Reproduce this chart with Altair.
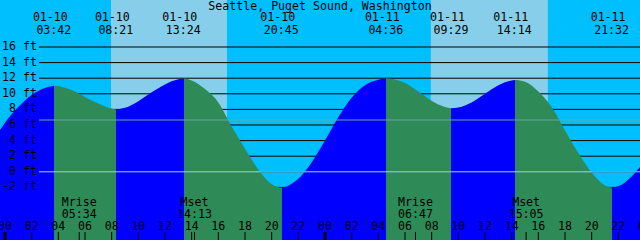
import altair as alt
import pandas as pd

TITLE = "Seattle, Puget Sound, Washington"

# Tide extremes
ext_dates = ["01-10", "01-10", "01-10", "01-10", "01-11", "01-11", "01-11", "01-11"]
ext_times = ["03:42", "08:21", "13:24", "20:45", "04:36", "09:29", "14:14", "21:32"]
ext_heights = [11.04, 8.0, 11.95, -2.05, 11.95, 8.15, 11.77, -2.0]

# Curve samples (hours after 01-10 00:00, height in ft)
sample_hours = [-0.375, 0, 1, 2, 3, 4, 5, 6, 7, 8, 9, 10, 11, 12, 13, 14, 15, 16,
                17, 18, 19, 20, 21, 22, 23, 24, 25, 26, 27, 28, 29, 30, 31, 32, 33,
                34, 35, 36, 37, 38, 39, 40, 41, 42, 43, 44, 45, 46, 47, 47.625]
sample_heights = [5.35, 6.3, 8.3, 9.85, 10.75, 10.98, 10.5, 9.6, 8.75, 8.1, 8.2,
                  9.05, 10.2, 11.2, 11.85, 11.7, 10.6, 8.9, 5.8, 2.95, 0.3, -1.6,
                  -1.95, -0.9, 1.2, 4.0, 7.0, 9.5, 11.1, 11.8, 11.9, 11.4, 10.3,
                  9.1, 8.3, 8.25, 8.9, 10.0, 11.1, 11.72, 11.55, 10.3, 8.3, 5.3,
                  2.4, -0.1, -1.75, -1.85, -0.6, 0.6]

# Sun (day bands)
sun_rise = ["07:57", "07:56"]
sun_set = ["16:39", "16:43"]
sun_day = [0, 1]

# Moon events
moon_kind = ["Mrise", "Mset", "Mrise", "Mset"]
moon_time = ["05:34", "14:13", "06:47", "15:05"]
moon_day = [0, 0, 1, 1]

# Depth grid (ft)
depths = [-2, 0, 2, 4, 6, 8, 10, 12, 14, 16]
msl = 6.64

# Hour ticks
tick_hours = list(range(0, 50, 2))

NIGHT = "#00BFFF"
DAY = "#87CEEB"
FLOOD = "#0000FF"
EBB = "#2E8B57"
FONT = "DejaVu Sans Mono"
FS = 11.6

W, H = 640, 240
X0, X1 = -0.375, 47.625
Y0, Y1 = -8.744, 22.026


def to_h(t, day=0):
    hh, mm = t.split(":")
    return 24 * day + int(hh) + int(mm) / 60.0


ext_day = [0 if d == "01-10" else 1 for d in ext_dates]
ext_hours = [to_h(t, d) for t, d in zip(ext_times, ext_day)]

curve = pd.DataFrame({"h": sample_hours + ext_hours, "ft": sample_heights + ext_heights})
curve = curve.sort_values("h").reset_index(drop=True)
curve["base"] = Y0

# gradient stops: rising = flood, falling = ebb
bounds = [X0] + ext_hours + [X1]
bvals = [sample_heights[0]] + ext_heights + [sample_heights[-1]]
stops = []
span = curve["h"].max() - curve["h"].min()
hmin = curve["h"].min()
for i in range(len(bounds) - 1):
    col = FLOOD if bvals[i + 1] > bvals[i] else EBB
    stops.append(alt.GradientStop(offset=(bounds[i] - hmin) / span, color=col))
    stops.append(alt.GradientStop(offset=(bounds[i + 1] - hmin) / span, color=col))
grad = alt.Gradient(gradient="linear", stops=stops, x1=0, x2=1, y1=0, y2=0)

xs = alt.Scale(domain=[X0, X1], nice=False, zero=False)
ys = alt.Scale(domain=[Y0, Y1], nice=False, zero=False)

one = pd.DataFrame({"a": [0]})
bg = alt.Chart(one).mark_rect(color=NIGHT).encode(
    x=alt.value(0), x2=alt.value(W), y=alt.value(0), y2=alt.value(H))

days = pd.DataFrame({"r": [to_h(t, d) for t, d in zip(sun_rise, sun_day)],
                     "s": [to_h(t, d) for t, d in zip(sun_set, sun_day)]})
day_bands = alt.Chart(days).mark_rect(color=DAY).encode(
    x=alt.X("r:Q", scale=xs, axis=None), x2="s:Q", y=alt.value(0), y2=alt.value(H))

dep = pd.DataFrame({"d": depths, "lab": [f"{d} ft" for d in depths]})
grid = alt.Chart(dep).mark_rule(color="black", strokeWidth=1).encode(
    y=alt.Y("d:Q", scale=ys, axis=None), x=alt.value(39), x2=alt.value(W))

area = alt.Chart(curve).mark_area(fill=grad, interpolate="monotone", clip=True).encode(
    x=alt.X("h:Q", scale=xs, axis=None),
    y=alt.Y("ft:Q", scale=ys, axis=None),
    y2="base:Q")

refs = pd.DataFrame({"v": [msl, 0], "c": ["#62a89e", "#9cd3ee"]})
ref_lines = alt.Chart(refs).mark_rule(strokeWidth=1).encode(
    y=alt.Y("v:Q", scale=ys, axis=None), x=alt.value(39), x2=alt.value(W),
    color=alt.Color("c:N", scale=None))

dep_labels = alt.Chart(dep).mark_text(font=FONT, fontSize=FS, align="right",
                                      baseline="middle", color="black").encode(
    y=alt.Y("d:Q", scale=ys, axis=None), x=alt.value(37), text="lab:N")

title = alt.Chart(one).mark_text(font=FONT, fontSize=FS, align="center",
                                 baseline="alphabetic", color="black").encode(
    x=alt.value(W / 2), y=alt.value(10), text=alt.value(TITLE))

ext = pd.DataFrame({"h": ext_hours, "date": ext_dates, "time": ext_times})
ext_date_t = alt.Chart(ext).mark_text(font=FONT, fontSize=FS, align="center",
                                      baseline="alphabetic", dx=-4, color="black").encode(
    x=alt.X("h:Q", scale=xs, axis=None), y=alt.value(21), text="date:N")
ext_time_t = alt.Chart(ext).mark_text(font=FONT, fontSize=FS, align="center",
                                      baseline="alphabetic", dx=-0.5, color="black").encode(
    x=alt.X("h:Q", scale=xs, axis=None), y=alt.value(34), text="time:N")

moon = pd.DataFrame({"h": [to_h(t, d) for t, d in zip(moon_time, moon_day)],
                     "k": moon_kind, "t": moon_time})
moon_k = alt.Chart(moon).mark_text(font=FONT, fontSize=FS, align="center",
                                   baseline="alphabetic", color="black").encode(
    x=alt.X("h:Q", scale=xs, axis=None), y=alt.value(206), text="k:N")
moon_t = alt.Chart(moon).mark_text(font=FONT, fontSize=FS, align="center",
                                   baseline="alphabetic", color="black").encode(
    x=alt.X("h:Q", scale=xs, axis=None), y=alt.value(218), text="t:N")
moon_ticks = alt.Chart(moon).mark_rule(color="black", strokeWidth=1).encode(
    x=alt.X("h:Q", scale=xs, axis=None), y=alt.value(232), y2=alt.value(H))

ticks = pd.DataFrame({"h": tick_hours,
                      "lab": [f"{h % 24:02d}" for h in tick_hours],
                      "w": [3 if h % 24 == 0 else 1 for h in tick_hours]})
tick_rules = alt.Chart(ticks).mark_rule(color="black").encode(
    x=alt.X("h:Q", scale=xs, axis=None), y=alt.value(232), y2=alt.value(H),
    strokeWidth=alt.StrokeWidth("w:Q", scale=None))
tick_labels = alt.Chart(ticks).mark_text(font=FONT, fontSize=FS, align="center",
                                         baseline="alphabetic", color="black").encode(
    x=alt.X("h:Q", scale=xs, axis=None), y=alt.value(230), text="lab:N")

chart = alt.layer(
    bg, day_bands, grid, area, ref_lines, dep_labels, title,
    ext_date_t, ext_time_t, moon_k, moon_t, moon_ticks, tick_rules, tick_labels
).properties(
    width=W, height=H, padding=0, autosize=alt.AutoSizeParams(type="none"),
    background=NIGHT
).configure_view(stroke=None)

chart.save("out.html", embed_options={"renderer": "svg", "actions": False})
